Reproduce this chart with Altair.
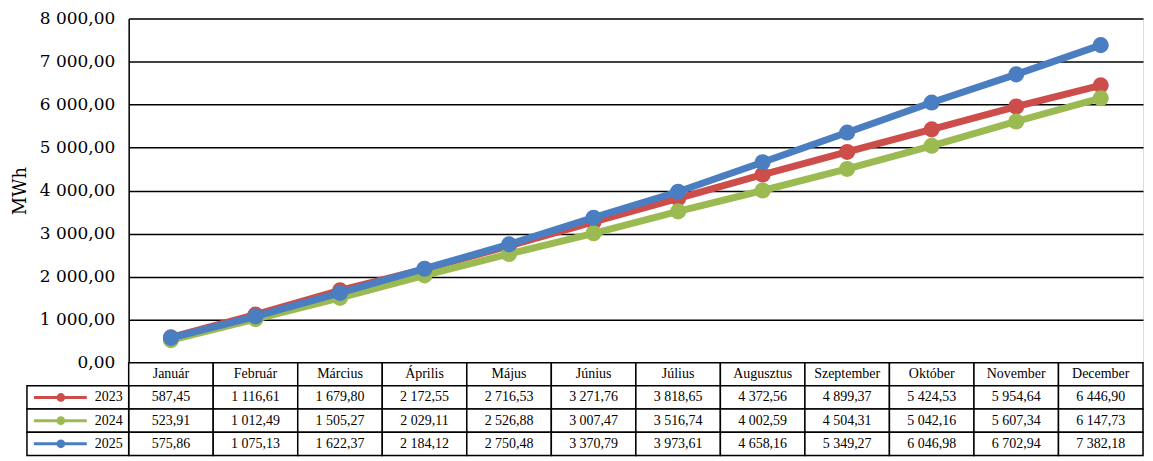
import altair as alt
import pandas as pd

months = ["Január", "Február", "Március", "Április", "Május", "Június",
          "Július", "Augusztus", "Szeptember", "Október", "November", "December"]
years = ["2023", "2024", "2025"]
y2023 = [587.45, 1116.61, 1679.80, 2172.55, 2716.53, 3271.76, 3818.65, 4372.56, 4899.37, 5424.53, 5954.64, 6446.90]
y2024 = [523.91, 1012.49, 1505.27, 2029.11, 2526.88, 3007.47, 3516.74, 4002.59, 4504.31, 5042.16, 5607.34, 6147.73]
y2025 = [575.86, 1075.13, 1622.37, 2184.12, 2750.48, 3370.79, 3973.61, 4658.16, 5349.27, 6046.98, 6702.94, 7382.18]
colors = ["#CD4D4A", "#9BBB52", "#4A7EC0"]
y_ticks = [0, 1000, 2000, 3000, 4000, 5000, 6000, 7000, 8000]
table_rows = ["hdr"] + years

rows = []
for yr, vals in zip(years, [y2023, y2024, y2025]):
    for m, v in zip(months, vals):
        rows.append({"year": yr, "month": m, "value": v})
df = pd.DataFrame(rows)

W, H, TH = 1017, 345, 93
color = alt.Color("year:N", scale=alt.Scale(domain=years, range=colors), legend=None)

xline = alt.X("month:N", sort=months, scale=alt.Scale(type="point", padding=0.5), axis=None)
yline = alt.Y("value:Q", scale=alt.Scale(domain=[0, 8000], nice=False),
              axis=alt.Axis(values=y_ticks, format=",.2f", title="MWh", ticks=False,
                            domainColor="black", domainWidth=1.5,
                            gridColor="black", gridWidth=1.5, gridOpacity=1,
                            labelFont="DejaVu Serif", labelFontSize=17, labelColor="black",
                            labelPadding=14, titleFont="DejaVu Serif", titleFontSize=18,
                            titleFontWeight="normal", titleColor="black", titlePadding=10))

layers = []
for yr in years:
    b = alt.Chart(df).transform_filter(alt.datum.year == yr)
    layers.append(b.mark_line(strokeWidth=7).encode(x=xline, y=yline, color=color))
    layers.append(b.mark_circle(size=260, opacity=1).encode(x=xline, y=yline, color=color))
line_chart = alt.layer(*layers).properties(width=W, height=H)

# table
cells = pd.DataFrame([{"month": m, "row": r} for r in table_rows for m in months])
hdr = pd.DataFrame({"month": months, "row": ["hdr"] * len(months)})
tdf = df.assign(row=df["year"])
leg = pd.DataFrame({"year": years, "row": years})

xt = alt.X("month:N", sort=months, scale=alt.Scale(type="band", paddingInner=0, paddingOuter=0),
           axis=None)
yscale = alt.Scale(type="band", domain=table_rows, paddingInner=0, paddingOuter=0)
yt = alt.Y("row:N", scale=yscale, axis=None)
ytc = alt.Y("row:N", scale=yscale, axis=None, bandPosition=0.5)

cell_rects = alt.Chart(cells).mark_rect(fill="white", stroke="black", strokeWidth=1.5).encode(x=xt, y=yt)
hdr_text = alt.Chart(hdr).mark_text(font="Liberation Serif", fontSize=14, color="black").encode(
    x=xt, y=ytc, text="month:N")
val_text = alt.Chart(tdf).mark_text(font="Liberation Serif", fontSize=14, color="black").encode(
    x=xt, y=ytc, text=alt.Text("value:Q", format=",.2f"))
leg_rect = alt.Chart(leg).mark_rect(fill="white", stroke="black", strokeWidth=1.5).encode(
    x=alt.value(-102), x2=alt.value(0), y=yt)
leg_line = alt.Chart(leg).mark_rule(strokeWidth=3).encode(
    x=alt.value(-95), x2=alt.value(-42), y=ytc, color=color)
leg_pt = alt.Chart(leg).mark_circle(size=75, opacity=1).encode(
    x=alt.value(-68), y=ytc, color=color)
leg_txt = alt.Chart(leg).mark_text(font="Liberation Serif", fontSize=14, color="black", align="right").encode(
    x=alt.value(-6), y=ytc, text="year:N")

table = alt.layer(cell_rects, hdr_text, val_text, leg_rect, leg_line, leg_pt, leg_txt).properties(
    width=W, height=TH)

chart = alt.vconcat(line_chart, table, spacing=0, bounds="flush").resolve_scale(
    x="independent", y="independent"
).properties(
    padding={"left": 2, "top": 0, "right": 0, "bottom": 0}
).configure_view(stroke=None).configure(background="white")

chart.save("out.html", embed_options={
    "renderer": "svg", "actions": False,
    "formatLocale": {"decimal": ",", "thousands": "\u00a0", "grouping": [3], "currency": ["", ""]}})
